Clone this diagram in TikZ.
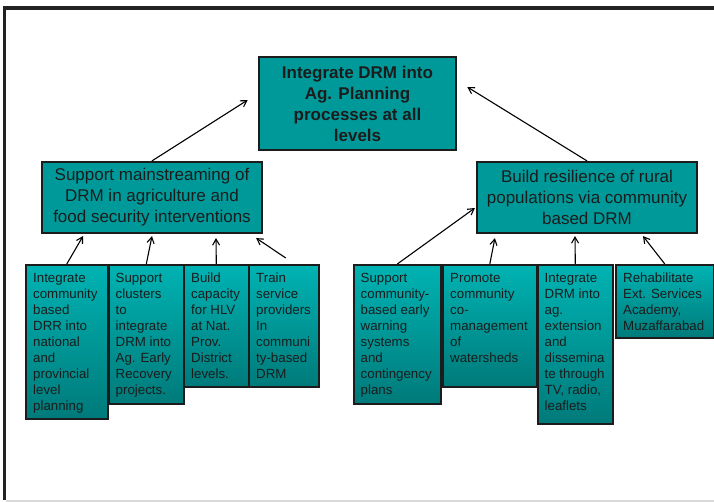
\documentclass[tikz,border=0pt]{standalone}
\usepackage{fontspec}
\setmainfont{Liberation Sans}
\usetikzlibrary{arrows.meta}

\definecolor{boxteal}{HTML}{009999}
\definecolor{shadetop}{HTML}{00B3B3}
\definecolor{shadebot}{HTML}{007A7A}
\definecolor{inkdark}{HTML}{1C1C1C}
\definecolor{framecol}{HTML}{222222}
\definecolor{rulegray}{HTML}{D9D9D9}

\begin{document}
\begin{tikzpicture}[x=1pt,y=-1pt,
  goalbox/.style={draw=inkdark, line width=2.6pt, fill=boxteal, inner sep=0pt,
    align=center, text=inkdark, font=\fontsize{17}{21}\selectfont\bfseries},
  midbox/.style={draw=inkdark, line width=2.2pt, fill=boxteal, inner sep=0pt,
    align=center, text=inkdark, font=\fontsize{17}{21}\selectfont},
  actbox/.style={draw=inkdark, line width=1.6pt, top color=shadetop,
    bottom color=shadebot, inner sep=0pt, anchor=north west},
  acttext/.style={anchor=north west, inner sep=0pt, align=left, text=inkdark,
    font=\fontsize{13.3}{16}\selectfont},
  link/.style={-{Straight Barb[length=6pt,width=7pt]}, line width=1.1pt, black}]

\useasboundingbox (0,0) rectangle (714,502);

% page frame
\draw[framecol, line width=3.5pt] (714,8) -- (4.5,8) -- (4.5,500);
\draw[rulegray, line width=1.5pt] (6,501) -- (714,501);

% goal
\node[goalbox, minimum width=197pt, minimum height=93pt] (goal) at (357.5,103.5)
  {Integrate DRM into\\Ag. Planning\\processes at all\\levels};

% outcomes
\node[midbox, minimum width=220pt, minimum height=71pt] (lm) at (152,197.5)
  {Support mainstreaming of\\DRM in agriculture and\\food security interventions};
\node[midbox, minimum width=220pt, minimum height=71pt] (rm) at (587,197.5)
  {Build resilience of rural\\populations via community\\based DRM};

% activities, left group
\node[actbox, minimum width=82pt, minimum height=154pt] (b1) at (25,264) {};
\node[acttext] (t1) at ([shift={(8,9)}]b1.north west)
  {Integrate\\community\\based\\DRR into\\national\\and\\provincial\\level\\planning};
\node[actbox, minimum width=75pt, minimum height=139pt] (b2) at (108,264) {};
\node[acttext] (t2) at ([shift={(7.5,9)}]b2.north west)
  {Support\\clusters\\to\\integrate\\DRM into\\Ag. Early\\Recovery\\projects.};
\node[actbox, minimum width=65pt, minimum height=122pt] (b3) at (183,264) {};
\node[acttext] (t3) at ([shift={(8,9)}]b3.north west)
  {Build\\capacity\\for HLV\\at Nat.\\Prov.\\District\\levels.};
\node[actbox, minimum width=70pt, minimum height=122pt] (b4) at (248,264) {};
\node[acttext] (t4) at ([shift={(8,9)}]b4.north west)
  {Train\\service\\providers\\In\\communi\\ty-based\\DRM};

% activities, right group
\node[actbox, minimum width=87pt, minimum height=139pt] (b5) at (353,264) {};
\node[acttext] (t5) at ([shift={(7.5,9)}]b5.north west)
  {Support\\community-\\based early\\warning\\systems\\and\\contingency\\plans};
\node[actbox, minimum width=94pt, minimum height=122pt] (b6) at (442,264) {};
\node[acttext] (t6) at ([shift={(8,9)}]b6.north west)
  {Promote\\community\\co-\\management\\of\\watersheds};
\node[actbox, minimum width=75pt, minimum height=159pt] (b7) at (537,264) {};
\node[acttext] (t7) at ([shift={(7.5,9)}]b7.north west)
  {Integrate\\DRM into\\ag.\\extension\\and\\dissemina\\te through\\TV, radio,\\leaflets};
\node[actbox, minimum width=98pt, minimum height=73pt] (b8) at (615,264) {};
\node[acttext] (t8) at ([shift={(8,9)}]b8.north west)
  {Rehabilitate\\Ext. Services\\Academy,\\Muzaffarabad};

% links up to the goal
\draw[link] (lm.north) -- ([shift={(-10,-3.5)}]goal.west);
\draw[link] (rm.north) -- ([shift={(10,-16.5)}]goal.east);

% links up to the outcomes
\draw[link] (b1.north) -- ([shift={(-69,2)}]lm.south);
\draw[link] (b2.north) -- ([shift={(0,2)}]lm.south);
\draw[link] (b3.north) -- ([shift={(64,4)}]lm.south);
\draw[link] ([shift={(2,-6)}]b4.north) -- ([shift={(-7,4)}]lm.south east);
\draw[link] (b5.north) -- ([shift={(-1,10.5)}]rm.west);
\draw[link] (b6.north) -- ([shift={(19,4)}]rm.south west);
\draw[link] (b7.north) -- ([shift={(-12,2)}]rm.south);
\draw[link] (b8.north) -- ([shift={(56,2)}]rm.south);
\end{tikzpicture}
\end{document}
